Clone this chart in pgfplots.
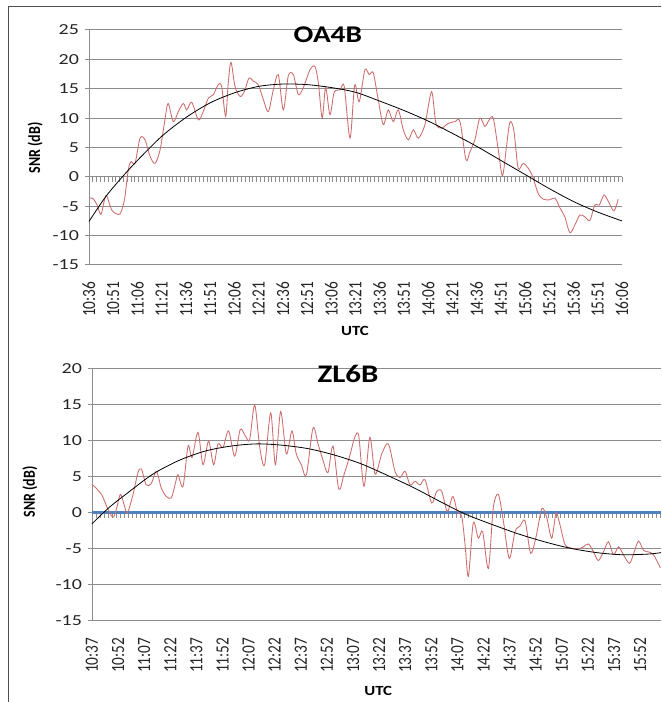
\documentclass[border=0pt]{standalone}
\usepackage{fontspec}
\setmainfont{Carlito}
\usepackage{pgfplots}
\pgfplotsset{compat=1.18}
\definecolor{snrred}{RGB}{205,110,110}
\definecolor{gridgray}{RGB}{140,140,140}
\definecolor{zeroblue}{RGB}{79,129,189}
\definecolor{framegray}{RGB}{80,80,80}

\pgfplotsset{
  mainax/.style={
    scale only axis,
    anchor=south west,
    /pgf/number format/assume math mode=true,
    ticklabel style={font=\fontsize{11.5}{12}\selectfont, text=black!85},
    axis lines*=left,
    axis line style={-, gridgray, line width=0.75pt},
    ymajorgrids,
    major grid style={gridgray, line width=0.75pt},
    tick align=outside,
    major tick length=3pt,
    ytick style={gridgray, line width=0.75pt},
    xtick style={draw=none},
    xticklabel style={rotate=90, anchor=east, yscale=1.22},
    yticklabel style={xscale=1.3},
    xticklabel shift=6pt,
    clip=false,
  },
  tickax/.style={
    scale only axis,
    anchor=south west,
    axis x line=middle,
    axis y line=none,
    x axis line style={-, gridgray, line width=0.75pt},
    xticklabels={},
    tick align=outside,
    major tick length=3.75pt,
    xtick style={gridgray, line width=0.5pt},
  },
  redline/.style={snrred, line width=0.65pt, smooth, tension=0.5, mark=none},
  trendline/.style={black, line width=0.6pt, smooth, mark=none},
}

\begin{document}
\begin{tikzpicture}
\useasboundingbox (0,0) rectangle (495.75pt,526.5pt);
\fill[white] (0,0) rectangle (495.75pt,526.5pt);
\draw[framegray, line width=0.75pt] (6pt,0pt) -- (6pt,521.25pt) -- (495.75pt,521.25pt);

% ---------- top chart: OA4B ----------
\begin{axis}[tickax, at={(66.75pt,327.75pt)}, width=399.75pt, height=176.25pt,
  xmin=0, xmax=330, ymin=-15, ymax=25, xtick={0,2.357,...,330}]
\end{axis}
\begin{axis}[mainax, at={(66.75pt,327.75pt)}, width=399.75pt, height=176.25pt,
  xmin=0, xmax=330, ymin=-15, ymax=25,
  ytick={-15,-10,...,25},
  xtick={0,15,...,330},
  xticklabels={10:36,10:51,11:06,11:21,11:36,11:51,12:06,12:21,12:36,12:51,13:06,13:21,13:36,13:51,14:06,14:21,14:36,14:51,15:06,15:21,15:36,15:51,16:06},
  title={OA4B},
  title style={at={(axis description cs:0.448,0.945)}, anchor=center, xscale=1.22, font=\fontsize{18}{20}\selectfont\bfseries},
  xlabel={UTC}, ylabel={SNR (dB)},
  every axis x label/.style={at={(axis description cs:0.499,-0.282)}, anchor=center, xscale=1.2, font=\fontsize{10.5}{12}\selectfont\bfseries},
  every axis y label/.style={at={(axis description cs:-0.101,0.498)}, anchor=center, rotate=90, yscale=1.2, font=\fontsize{10.5}{12}\selectfont\bfseries},
]
\addplot[redline] coordinates {
(0,-3.6)(2.5,-3.7)(5,-4.8)(7.4,-6.4)(9.5,-4)(10.9,-3.2)(14,-5.6)(17,-6.3)(19.2,-6.3)(21,-5)
(22.3,-3.3)(24.3,1.2)(26,2.6)(28.5,2.3)(31.6,6.6)(34.7,6.3)(37.8,3.5)(40.9,2.3)(44,4.6)(47,9.7)
(49,12.5)(52.2,9.4)(55.3,11.1)(58.4,12.5)(60.5,11.4)(63.6,12.7)(67.7,9.7)(70.7,11.1)(73.9,13.4)(77,14)
(80,15.7)(82.1,15.4)(84.6,10.3)(86.2,15.9)(87.9,19.5)(90.4,15.4)(93.5,13.7)(96.2,14.5)(99,16.8)(101.7,16.3)
(104.8,15.7)(107.9,13.2)(111,11.1)(114.1,14.8)(117.2,17.4)(120.3,11.4)(123.4,17.2)(126.5,17.4)(129.6,14)(132.7,15.2)
(136.8,18.2)(139.9,18.8)(142,16)(144.4,10)(146.5,15.2)(149.2,10.6)(151.8,14.4)(155.4,14.8)(158,15.4)(161.6,6.6)
(164.5,15.6)(167.3,12.8)(170.8,18.2)(173.5,17.4)(176,17.7)(179.1,13.1)(182.2,8.9)(185.3,11.4)(188.4,9.4)(191.5,11.4)
(194.6,8)(197.7,6.3)(200.8,8)(203.9,6.6)(208,8.9)(212.1,14.5)(214.8,9.1)(218.3,8.3)(222.4,9.1)(226.6,9.4)
(229.7,9.4)(233.4,2.9)(235.9,4.3)(238.9,6.3)(242,10)(245.1,8.6)(247.8,9.7)(250.3,10)(253.4,4.6)(256,0.2)
(258.5,5.2)(260.6,9.3)(263,8)(265.7,1.5)(268.8,2.3)(271.9,1.5)(274.6,0.1)(278.1,-2.8)(281.3,-3.8)(285.4,-3.9)
(288.5,-3.6)(291.6,-5.3)(294.6,-6.8)(297.7,-9.5)(300.8,-8.2)(303.9,-6.5)(307,-6.8)(310.1,-7.4)(313.2,-4.8)(315.9,-4.8)
(318.8,-3.1)(321.4,-4.1)(325,-5.8)(327.6,-3.8)
};
\addplot[trendline] coordinates {
(0,-7.6)(10,-3.5)(20,-0.2)(30,2.8)(45,6.9)(60,10.1)(75,12.6)(90,14.3)(105,15.4)(120,15.8)(135,15.7)
(150,15.2)(165,14.4)(180,12.9)(195,11.3)(210,9.5)(225,7.4)(240,5.2)(255,2.8)(270,0.4)(285,-2.0)
(300,-4.2)(315,-6.0)(330,-7.5)
};
\end{axis}

% ---------- bottom chart: ZL6B ----------
\begin{axis}[tickax, at={(69pt,60.75pt)}, width=426.75pt, height=189pt,
  xmin=0, xmax=327, ymin=-15, ymax=20, xtick={0,2.3,...,327}]
\end{axis}
\begin{axis}[mainax, at={(69pt,60.75pt)}, width=426.75pt, height=189pt,
  xmin=0, xmax=327, ymin=-15, ymax=20,
  ytick={-15,-10,...,20},
  xtick={0,15,...,315},
  xticklabels={10:37,10:52,11:07,11:22,11:37,11:52,12:07,12:22,12:37,12:52,13:07,13:22,13:37,13:52,14:07,14:22,14:37,14:52,15:07,15:22,15:37,15:52},
  title={ZL6B},
  title style={at={(axis description cs:0.45,0.948)}, anchor=center, xscale=1.22, font=\fontsize{19}{21}\selectfont\bfseries},
  xlabel={UTC}, ylabel={SNR (dB)},
  every axis x label/.style={at={(axis description cs:0.503,-0.277)}, anchor=center, xscale=1.2, font=\fontsize{10.5}{12}\selectfont\bfseries},
  every axis y label/.style={at={(axis description cs:-0.109,0.512)}, anchor=center, rotate=90, yscale=1.2, font=\fontsize{10.5}{12}\selectfont\bfseries},
]
\addplot[zeroblue, line width=2.25pt, mark=none] coordinates {(0,0)(327,0)};
\addplot[redline] coordinates {
(0,4.0)(5.4,2.6)(9.2,0.5)(12.1,-0.6)(14,0.5)(16.3,2.6)(18.4,1.2)(20.3,0)(23.6,2.6)(26.4,5.6)
(28.4,6.1)(31.2,3.9)(34.1,4.1)(37,5.8)(39.8,3.5)(42.7,2.3)(45.6,2.1)(47.9,4.1)(49.4,5.3)(52.3,3.7)
(55.2,9.3)(57.5,7.7)(60.9,11.2)(63.8,6.7)(67,10)(69.9,6.7)(72.4,9.6)(75.3,9.1)(78.5,11.4)(82,7.9)
(85.2,11.6)(88.1,10.7)(90.6,10.2)(93.5,15)(96.4,9.1)(99.2,6.7)(102.7,13.9)(105.4,6.7)(108.4,14.1)(111.7,8.2)
(114.9,11.4)(117.4,8.2)(120.3,6.7)(123.2,5.3)(127,11.8)(129.9,9.6)(132.8,7.3)(135.6,5.6)(138.5,9.3)(141.8,3.3)
(144.8,5.3)(148.1,7.9)(151,10.5)(153.3,10.7)(156.3,3.7)(159.7,10.5)(162.7,5.4)(166.5,8.2)(170.3,9.6)(174.1,5.8)
(177,4.9)(179.9,5.8)(182.8,3.9)(185.6,4.4)(188.5,3.9)(191.4,4.6)(195.2,1.4)(198.1,3.0)(201,3.0)(204.2,0.2)
(207.3,2.3)(210,0.2)(212.5,-0.5)(214.4,-4.4)(216.3,-8.8)(219.1,-1.4)(222,-3.5)(224.5,-2.6)(227.8,-7.7)(230.6,0.7)
(233.5,2.6)(236.4,-1.1)(239.8,-6.3)(243.1,-2.6)(246,-1.8)(248.9,-1.1)(252.1,-5.6)(255.2,-3.3)(258.5,0.6)(261.3,-0.6)
(264.2,-3.5)(266.7,0)(269,-1.7)(271.9,-4.4)(275.7,-4.9)(279.5,-5.0)(282.4,-4.7)(285.3,-4.3)(288.2,-5.4)(291,-6.6)
(293.9,-5.4)(296.8,-4)(299.7,-5.8)(302.6,-4.7)(305.4,-5.8)(308.9,-7.0)(311.6,-5.4)(314.1,-3.9)(317,-5.2)(319.8,-5.4)
(322.7,-5.8)(326.6,-7.6)
};
\addplot[trendline] coordinates {
(0,-1.5)(10,0.8)(20,2.7)(35,5.4)(50,7.3)(65,8.6)(80,9.3)(95,9.6)(110,9.4)(125,8.9)(140,8.0)
(155,6.8)(170,5.2)(185,3.5)(200,1.6)(215,-0.2)(230,-1.6)(245,-2.9)(260,-4.0)(275,-4.9)(290,-5.5)
(305,-5.8)(320,-5.7)(327,-5.5)
};
\end{axis}
\end{tikzpicture}
\end{document}
